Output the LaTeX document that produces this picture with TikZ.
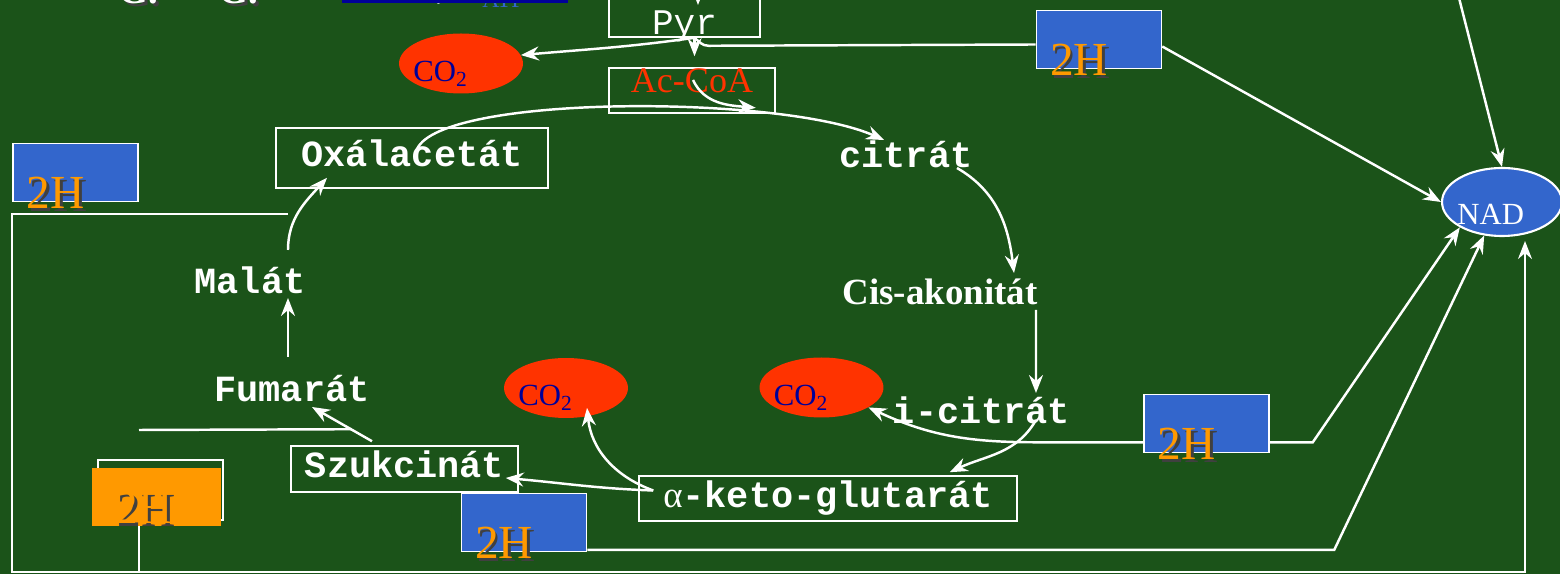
\documentclass[tikz,border=0pt]{standalone}
\usepackage{fontspec}
\setmonofont{Liberation Mono}
\newfontfamily\tnr{Liberation Serif}
\usepackage{xcolor}
\usepackage{tikz}
\usetikzlibrary{shapes.geometric,arrows.meta,positioning,calc}

\definecolor{slide}{RGB}{27,83,25}
\definecolor{hblue}{RGB}{51,102,204}
\definecolor{cored}{RGB}{255,51,0}
\definecolor{codark}{RGB}{0,0,153}
\definecolor{horange}{RGB}{255,153,0}

% text with a dark drop shadow
\newcommand\shtext[1]{\makebox[0pt][l]{\kern1.6pt\raisebox{-1.6pt}{\color{black!75}#1}}#1}

\tikzset{
    metab/.style={font=\ttfamily\bfseries\fontsize{21}{21}\selectfont, text=white, inner sep=1pt},
    mbox/.style={metab, draw=white, line width=0.9pt, text height=0.52cm, text depth=0.16cm, inner sep=0pt},
    frame/.style={draw=white, line width=0.9pt},
    hbox/.style={rectangle, fill=hblue, frame, minimum width=2.5cm, minimum height=1.16cm, inner sep=0pt},
    htxt/.style={font=\tnr\fontsize{27}{27}\selectfont, text=horange, inner sep=0pt, anchor=base west},
    co2/.style={ellipse, fill=cored, minimum width=2.48cm, minimum height=1.2cm, inner sep=0pt},
    co2txt/.style={font=\tnr\fontsize{17.5}{17.5}\selectfont, text=codark, inner sep=0pt, anchor=base west},
    title/.style={font=\tnr\bfseries\fontsize{22}{22}\selectfont, text=white, inner sep=0pt, anchor=base west},
    flow/.style={-{Stealth[length=0.36cm, width=0.28cm, inset=0.12cm]}, white, line width=1.4pt},
    wire/.style={white, line width=1.4pt},
}

\begin{document}
\begin{tikzpicture}[x=0.02cm, y=0.02cm]
    \useasboundingbox (0,0) rectangle (1560,574);
    \fill[slide] (0,0) rectangle (1560,574);
    \clip (0,0) rectangle (1560,574);

    % cut-off title line
    \node[title] (g1) at (118,570) {\shtext{G.}};
    \node[title] (g2) at (218,570) {\shtext{G.}};
    \node[title] (cm) at (437,575) {,};
    \node[title, font=\tnr\fontsize{13.5}{13.5}\selectfont, text=hblue] (atp) at (482,566) {ATP};
    \fill[codark] (342,571) rectangle (568,590);

    % metabolites
    \node[frame, font=\ttfamily\fontsize{20.5}{20.5}\selectfont, text=white, minimum width=3.02cm,
          text height=1.22cm, text depth=0.04cm, inner ysep=0pt, anchor=base] (pyr) at (684.5,539) {Pyr};
    \node[frame, font=\tnr\fontsize{20.5}{20.5}\selectfont, text=cored, minimum width=3.32cm,
          text height=0.45cm, text depth=0.35cm, inner ysep=0.05cm] (accoa) at (692,483.5) {Ac-CoA};
    \node[mbox, minimum width=5.44cm, minimum height=1.2cm] (oxal) at (412,416) {Oxálacetát};
    \node[metab, anchor=base] (cit) at (906,406) {citrát};
    \node[metab, anchor=base, font=\tnr\bfseries\fontsize{21}{21}\selectfont] (cis) at (940,269) {Cis-akonitát};
    \node[metab, anchor=base] (icit) at (981.5,150) {i-citrát};
    \node[mbox, minimum width=7.56cm, minimum height=0.9cm] (akg) at (828,75.5) {{\tnr\mdseries α}-keto-glutarát};
    \node[mbox, minimum width=4.54cm, minimum height=0.92cm] (szuk) at (404.5,105) {Szukcinát};
    \node[metab, anchor=base] (fum) at (292,172) {Fumarát};
    \node[metab, anchor=base] (mal) at (250,280) {Malát};

    % CO2
    \node[co2] (c1) at (461,510.5) {};
    \node[co2txt] (c1t) at ($(c1.center)+(-48,-18)$) {CO\textsubscript{2}};
    \node[co2] (c2) at (566,186) {};
    \node[co2txt] (c2t) at ($(c2.center)+(-48,-18)$) {CO\textsubscript{2}};
    \node[co2] (c3) at (821.5,186.5) {};
    \node[co2txt] (c3t) at ($(c3.center)+(-48,-18)$) {CO\textsubscript{2}};

    % NAD
    \node[ellipse, fill=hblue, draw=white, line width=1.2pt, minimum width=2.4cm, minimum height=1.36cm] (nad) at (1502,372) {};
    \node[co2txt, text=white, font=\tnr\fontsize{17.5}{17.5}\selectfont] (nadt) at ($(nad.center)+(-45,-23)$) {NAD};

    % 2H
    \node[hbox] (h1) at (1099,534.5) {};
    \node[htxt] (h1t) at ($(h1.south west)+(14,-6)$) {\shtext{2H}};
    \node[hbox] (h2) at (75.5,401.5) {};
    \node[htxt] (h2t) at ($(h2.south west)+(14,-6)$) {\shtext{2H}};
    \node[hbox] (h3) at (1206.5,150.5) {};
    \node[htxt] (h3t) at ($(h3.south west)+(14,-6)$) {\shtext{2H}};
    \node[hbox] (h4) at (524,51.5) {};
    \node[htxt] (h4t) at ($(h4.south west)+(14,-6)$) {\shtext{2H}};
    \node[frame, minimum width=2.5cm, minimum height=1.2cm] (h5f) at (160.5,84) {};
    \node[fill=horange, minimum width=2.58cm, minimum height=1.16cm, inner sep=0pt] (h5) at (156.5,77) {};
    \node[htxt] (h5t) at ($(h5f.south west)+(17,-3)$) {\shtext{2H}};

    \coordinate (pj) at ($(pyr.south)+(10,0)$);
    \coordinate (ptop) at (698,600);
    \coordinate (ntop) at (1458,580);
    \coordinate (mj) at ($(mal.base)+(38,80)$);
    \coordinate (lpa) at (12,360);
    \coordinate (lpb) at (12,2);
    \coordinate (lpc) at (1525,2);
    \coordinate (fl) at (139,144);
    \coordinate (akl) at ($(akg.west)+(15,8)$);

    % Pyr
    \draw[flow] (ptop) -- ($(pyr.base)+(13.5,30)$);
    \draw[flow, shorten >=0.22cm] (pj) -- (pj |- accoa.north);
    \draw[flow] (pj) to[out=188, in=5] (c1.8);
    \draw[wire] ($(h1.west)+(0,-5)$) -- ($(pj)+(14,-8)$) to[out=180, in=-40] (pj);

    % cycle
    \draw[flow] ($(accoa.center)+(1,10.5)$) to[out=-65, in=175] ($(accoa.south east)+(-20,6)$);
    \draw[flow] ($(oxal.center)+(4,6)$) .. controls +(14,58) and +(-104,46) .. ($(cit.base)+(-22,28)$);
    \draw[flow] ($(cit.base)+(51,0)$) to[out=-30, in=97] ($(cis.base)+(74,32)$);
    \draw[flow] ($(cis.base)+(96,-5)$) -- ($(icit.base)+(54.5,31)$);
    \draw[flow] ($(icit.base)+(54.5,4)$) to[out=240, in=25] ($(akg.north east)+(-68,3)$);
    \draw[flow] (akl) to[out=160, in=-84] ($(c2.center)+(21,-20)$);
    \draw[flow] (akl) to[out=178, in=-5] ($(szuk.east)+(-13,-9)$);
    \draw[flow] ($(szuk.north)+(-32.5,4)$) -- ($(fum.base)+(20,-5)$);
    \draw[wire] (fl) -- ($(szuk.north)+(-53,16)$);
    \draw[flow] ($(fum.base)+(-4,45)$) -- ($(mal.base)+(38,-4)$);
    \draw[flow] ($(mal.base)+(38,44)$) to[out=90, in=228] ($(oxal.south)+(-85,11)$);

    % hydrogen to NAD
    \draw[flow] ($(h3.south west)+(0,11)$) -- ++(-107,0) to[out=180, in=-25] (c3.-23);
    \draw[flow] ($(h3.south east)+(0,11)$) -- ++(43,0) -- (nad.211);
    \draw[flow] ($(h4.south east)+(0,2.5)$) -- ++(747,0) -- (nad.242);
    \draw[flow] ($(h1.east)+(0,-7)$) -- (nad.west);
    \draw[flow] (ntop) -- (nad.north);
    \draw[wire] (h5.south -| fl) -- (fl |- lpb);
    \draw[flow, shorten >=0.08cm] (mj) -- (lpa) -- (lpb) -- (lpc) -- (lpc |- nad.south);
\end{tikzpicture}
\end{document}
